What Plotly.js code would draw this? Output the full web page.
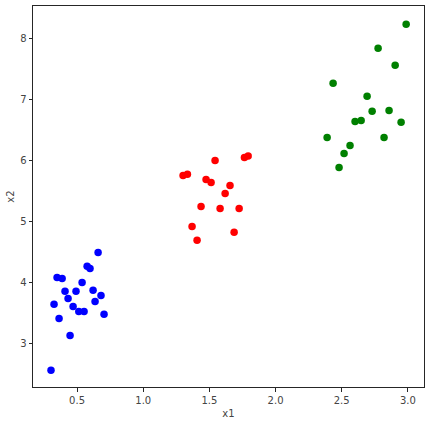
<!DOCTYPE html>
<html>
<head>
<meta charset="utf-8">
<script src="https://cdn.plot.ly/plotly-3.0.1.min.js"></script>
<style>html,body{margin:0;padding:0;background:#fff;}#chart{width:431px;height:423px;}</style>
</head>
<body>
<div id="chart"></div>
<script>
const blueX = [0.659,0.576,0.598,0.349,0.387,0.538,0.409,0.492,0.621,0.681,0.432,0.636,0.326,0.470,0.513,0.553,0.704,0.364,0.447,0.303];
const blueY = [4.498,4.274,4.236,4.089,4.072,4.007,3.864,3.864,3.880,3.793,3.744,3.695,3.651,3.613,3.531,3.531,3.487,3.416,3.138,2.569];
const redX = [1.543,1.765,1.793,1.301,1.334,1.475,1.513,1.656,1.619,1.437,1.581,1.725,1.369,1.687,1.407];
const redY = [6.007,6.056,6.077,5.761,5.782,5.695,5.646,5.597,5.466,5.252,5.220,5.220,4.925,4.831,4.700];
const greenX = [2.987,2.775,2.904,2.435,2.692,2.730,2.858,2.601,2.647,2.949,2.390,2.820,2.563,2.518,2.480];
const greenY = [8.236,7.843,7.564,7.269,7.056,6.810,6.826,6.646,6.662,6.630,6.384,6.384,6.252,6.121,5.892];
const xTitle = 'x1';
const yTitle = 'x2';

function tr(x, y, c) {
  return {x: x, y: y, type: 'scatter', mode: 'markers', marker: {color: c, size: 7.5}, showlegend: false, hoverinfo: 'x+y'};
}
const data = [tr(blueX, blueY, 'blue'), tr(redX, redY, 'red'), tr(greenX, greenY, 'green')];
const axBase = {
  showline: true, mirror: true, linecolor: '#262626', linewidth: 1,
  ticks: 'outside', ticklen: 3.5, tickwidth: 1, tickcolor: '#262626',
  showgrid: false, zeroline: false,
  tickfont: {family: 'DejaVu Sans', size: 10, color: '#444'}
};
const layout = {
  width: 431, height: 423,
  margin: {l: 33, r: 7, t: 6, b: 36},
  paper_bgcolor: '#fff', plot_bgcolor: '#fff',
  font: {family: 'DejaVu Sans', size: 10, color: '#444'},
  xaxis: Object.assign({}, axBase, {range: [0.167, 3.122], dtick: 0.5, tick0: 0, tickformat: '.1f',
    title: {text: xTitle, font: {family: 'DejaVu Sans', size: 10, color: '#444'}, standoff: 5}}),
  yaxis: Object.assign({}, axBase, {range: [2.295, 8.536], dtick: 1, tick0: 0,
    title: {text: yTitle, font: {family: 'DejaVu Sans', size: 10, color: '#444'}, standoff: 3}})
};
Plotly.newPlot('chart', data, layout, {displayModeBar: false, staticPlot: true});
</script>
</body>
</html>
